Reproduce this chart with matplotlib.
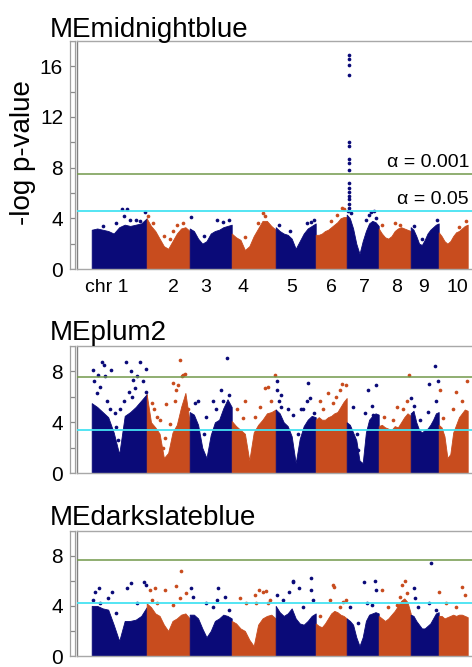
import numpy as np
import matplotlib.pyplot as plt

plt.rcParams['font.family'] = ['Liberation Sans', 'DejaVu Sans']

# chromosome lengths (plot units) and where chr 1 starts
chr_len = [55, 43, 42, 44, 40, 31, 32, 32, 28, 29]
chr_first = 14.7
chr_tick_pos = [29.5, 96, 129, 166, 215, 254, 287, 320, 346, 380]
chr_tick_lab = ['chr 1', '2', '3', '4', '5', '6', '7', '8', '9', '10']

navy = '#0a0a78'
rust = '#c84c1e'
green = '#72994a'
cyan = '#45e3f2'

# ---- MEmidnightblue ----
p1_env = [
    [3.1, 3.2, 3.1, 3.0, 2.8, 3.3, 3.5, 3.4, 3.5, 3.6, 4.0],
    [4.0, 3.4, 3.0, 2.4, 1.8, 1.6, 2.2, 2.8, 3.2, 3.3, 3.0],
    [3.2, 3.0, 2.4, 2.0, 2.2, 2.8, 3.0, 3.1, 3.3, 3.4, 3.5],
    [2.8, 2.5, 2.3, 1.5, 1.8, 2.6, 3.2, 3.8, 3.8, 3.4, 3.1],
    [3.3, 3.0, 2.8, 2.7, 2.4, 1.6, 2.2, 2.8, 3.2, 3.4, 3.6],
    [2.7, 2.7, 2.8, 3.0, 3.1, 3.3, 3.5, 3.7, 4.0, 4.1, 4.1],
    [4.3, 4.0, 3.2, 2.0, 1.2, 2.2, 3.0, 3.6, 3.8, 3.7, 3.4],
    [3.2, 2.8, 2.5, 2.4, 2.6, 3.0, 3.2, 3.3, 3.2, 3.1, 3.0],
    [3.3, 3.1, 2.6, 2.0, 1.9, 2.3, 2.8, 3.1, 3.3, 3.5, 3.6],
    [2.9, 2.6, 2.2, 2.0, 2.2, 2.6, 2.9, 3.0, 3.2, 3.4, 3.5],
]
p1_pts = [
    [(0.55, 4.7), (0.64, 4.7), (0.97, 4.5), (0.8, 3.9), (0.2, 3.4), (0.45, 3.6), (0.58, 4.2), (0.7, 3.9), (0.88, 3.8)],
    [(0.03, 4.2), (0.15, 3.6), (0.4, 2.6), (0.55, 2.4), (0.7, 3.5), (0.85, 3.6), (0.6, 3.0)],
    [(0.04, 4.1), (0.65, 3.9), (0.93, 3.9), (0.8, 3.7), (0.35, 2.6)],
    [(0.72, 4.4), (0.75, 4.2), (0.3, 2.5), (0.6, 3.6)],
    [(0.08, 3.5), (0.35, 3.0), (0.78, 3.6), (0.95, 3.9), (0.88, 3.7)],
    [(0.85, 4.8), (0.9, 4.7), (0.7, 4.3), (0.5, 3.8)],
    [(0.08, 16.9), (0.08, 16.6), (0.08, 16.1), (0.08, 15.3), (0.08, 10.0), (0.08, 9.7),
     (0.08, 8.7), (0.08, 8.4), (0.08, 7.8), (0.08, 6.8), (0.08, 6.4), (0.08, 6.1),
     (0.08, 5.8), (0.08, 5.5), (0.08, 5.1), (0.08, 4.8),
     (0.7, 4.3), (0.75, 4.5), (0.85, 4.6), (0.9, 4.0), (0.6, 3.9), (0.05, 4.6), (0.12, 4.4)],
    [(0.5, 3.6), (0.65, 3.5), (0.1, 3.5)],
    [(0.1, 3.4), (0.95, 3.9), (0.4, 2.4)],
    [(0.93, 3.8), (0.7, 3.3)],
]

# ---- MEplum2 ----
p2_env = [
    [5.5, 5.2, 4.8, 4.4, 3.2, 1.5, 4.5, 4.8, 5.2, 5.7, 6.2],
    [6.2, 4.0, 3.6, 3.1, 1.2, 1.6, 3.2, 3.8, 5.2, 6.3, 4.0],
    [4.8, 4.6, 3.8, 2.0, 1.2, 3.0, 4.0, 4.2, 5.1, 5.8, 5.2],
    [4.1, 3.7, 3.4, 3.1, 1.0, 3.2, 3.8, 4.2, 4.7, 4.8, 5.0],
    [5.0, 4.7, 4.0, 3.7, 2.9, 0.8, 2.7, 3.7, 4.2, 4.5, 4.4],
    [4.2, 4.4, 4.2, 4.2, 4.4, 4.5, 4.7, 4.8, 5.2, 5.6, 5.9],
    [4.0, 3.8, 3.2, 2.6, 1.0, 0.8, 3.2, 4.2, 4.5, 4.7, 4.6],
    [3.7, 3.8, 3.6, 3.5, 3.4, 3.7, 3.6, 4.0, 4.4, 4.7, 4.5],
    [4.7, 4.9, 4.0, 3.4, 3.2, 3.4, 3.5, 3.8, 4.2, 4.7, 4.8],
    [3.8, 3.6, 2.9, 1.2, 1.5, 3.2, 3.8, 4.4, 4.7, 5.0, 4.9],
]
p2_pts = [
    [(0.03, 8.1), (0.19, 8.7), (0.23, 8.5), (0.12, 7.7), (0.24, 7.6), (0.35, 8.1), (0.62, 8.7),
     (0.71, 8.0), (0.88, 8.7), (0.98, 8.2), (0.83, 7.6), (0.75, 7.3), (0.04, 7.2), (0.15, 6.8),
     (0.09, 6.3), (0.27, 5.7), (0.33, 5.0), (0.42, 4.7), (0.52, 5.0), (0.59, 5.7), (0.67, 6.4),
     (0.73, 6.0), (0.79, 6.7), (0.93, 7.2), (0.98, 6.4), (0.45, 3.6), (0.47, 2.6)],
    [(0.77, 8.9), (0.85, 7.7), (0.88, 7.8), (0.81, 7.6), (0.62, 7.1), (0.46, 5.4), (0.12, 5.5),
     (0.23, 4.4), (0.17, 5.0), (0.38, 2.0), (0.42, 2.8), (0.54, 3.9), (0.65, 5.7), (0.69, 6.5),
     (0.73, 6.9), (0.96, 5.0), (0.31, 4.2)],
    [(0.88, 9.0), (0.2, 5.7), (0.12, 5.5), (0.55, 5.7), (0.75, 6.5), (0.94, 6.1), (0.8, 5.7),
     (0.33, 3.1), (0.63, 5.0), (0.39, 4.4)],
    [(0.98, 7.7), (0.75, 6.7), (0.83, 6.8), (0.3, 5.7), (0.52, 4.4), (0.64, 5.2), (0.9, 5.7),
     (0.26, 4.3), (0.11, 5.0)],
    [(0.04, 7.2), (0.02, 6.5), (0.12, 6.1), (0.08, 5.7), (0.14, 5.2), (0.31, 5.0), (0.43, 4.6),
     (0.64, 5.0), (0.68, 5.0), (0.81, 7.1), (0.85, 5.9), (0.77, 5.7), (0.95, 4.7), (0.56, 3.1)],
    [(0.13, 5.7), (0.4, 6.3), (0.57, 5.5), (0.78, 6.5), (0.84, 7.0), (0.98, 6.9), (0.67, 6.0),
     (0.24, 5.0)],
    [(0.19, 5.2), (0.66, 6.5), (0.92, 6.9), (0.78, 5.3), (0.83, 4.6), (0.57, 4.7), (0.31, 3.1),
     (0.36, 1.8)],
    [(0.96, 7.7), (0.88, 5.7), (0.56, 5.2), (0.15, 4.4), (0.77, 5.0), (0.46, 4.2)],
    [(0.85, 8.4), (0.97, 7.2), (0.65, 7.0), (0.02, 5.9), (0.12, 5.3), (0.62, 4.8), (0.91, 5.7),
     (0.33, 4.2)],
    [(0.96, 7.2), (0.61, 6.4), (0.79, 5.7), (0.06, 6.5), (0.14, 4.3), (0.49, 5.0)],
]

# ---- MEdarkslateblue ----
p3_env = [
    [4.0, 4.0, 3.8, 3.7, 2.5, 1.2, 2.8, 2.8, 2.9, 3.2, 3.9],
    [4.2, 3.9, 3.4, 3.2, 2.5, 2.0, 2.8, 3.0, 3.3, 3.4, 3.0],
    [3.3, 3.3, 3.0, 2.2, 1.5, 2.0, 2.8, 3.0, 3.3, 3.2, 3.0],
    [2.8, 2.6, 2.2, 2.0, 1.3, 0.8, 2.5, 3.0, 3.2, 3.3, 3.0],
    [4.0, 3.5, 3.2, 3.4, 3.8, 3.0, 2.6, 2.5, 2.8, 3.2, 3.4],
    [2.6, 2.4, 2.3, 2.6, 3.0, 3.4, 3.6, 3.5, 3.3, 3.2, 3.0],
    [3.0, 2.8, 2.5, 1.5, 0.8, 1.5, 2.8, 3.3, 3.4, 3.5, 3.4],
    [3.2, 3.0, 2.8, 3.0, 3.3, 3.6, 4.0, 4.4, 4.6, 4.3, 3.4],
    [3.3, 3.2, 2.8, 2.5, 2.2, 2.2, 2.4, 2.6, 3.0, 3.4, 3.5],
    [3.2, 3.2, 3.0, 3.1, 3.2, 3.3, 3.2, 3.3, 3.3, 3.2, 3.1],
]
p3_pts = [
    [(0.06, 5.1), (0.14, 5.4), (0.3, 4.6), (0.36, 5.1), (0.65, 5.4), (0.72, 5.8), (0.82, 4.2),
     (0.95, 5.9), (0.98, 5.7), (0.15, 4.2), (0.03, 4.5), (0.45, 3.4)],
    [(0.08, 5.3), (0.19, 5.4), (0.42, 5.3), (0.68, 5.6), (0.79, 6.8), (0.77, 4.6), (0.6, 4.1),
     (0.12, 4.5), (0.92, 5.0), (0.23, 4.2)],
    [(0.04, 5.4), (0.08, 4.7), (0.67, 5.4), (0.65, 4.5), (0.85, 4.7), (0.39, 4.2), (0.55, 3.9),
     (0.94, 3.7)],
    [(0.18, 4.6), (0.33, 4.2), (0.52, 4.9), (0.63, 5.3), (0.71, 5.1), (0.79, 5.2), (0.86, 4.5),
     (0.56, 4.2), (0.82, 4.2)],
    [(0.04, 4.9), (0.43, 5.9), (0.42, 6.0), (0.33, 5.1), (0.58, 5.4), (0.89, 6.2), (0.87, 5.3),
     (0.93, 4.5), (0.18, 4.5), (0.68, 3.9)],
    [(0.57, 5.7), (0.59, 5.5), (0.89, 4.3), (0.98, 4.5), (0.46, 4.5), (0.13, 3.2), (0.78, 3.9)],
    [(0.54, 5.9), (0.89, 6.0), (0.92, 5.3), (0.63, 4.2), (0.78, 4.1), (0.1, 3.9), (0.36, 2.6)],
    [(0.82, 6.0), (0.72, 5.7), (0.88, 5.0), (0.67, 4.7), (0.09, 5.3), (0.56, 4.1), (0.3, 3.9)],
    [(0.73, 7.4), (0.12, 5.4), (0.15, 4.6), (0.67, 4.2), (0.91, 3.7), (0.27, 3.9)],
    [(0.01, 5.1), (0.82, 5.5), (0.91, 4.9), (0.26, 4.2), (0.61, 3.9)],
]

titles = ['MEmidnightblue', 'MEplum2', 'MEdarkslateblue']
y_max = [18, 10, 10]
y_major = [[0, 4, 8, 12, 16], [0, 4, 8], [0, 4, 8]]
thr_001 = [7.5, 7.55, 7.7]
thr_05 = [4.6, 3.42, 4.26]
envs = [p1_env, p2_env, p3_env]
pts = [p1_pts, p2_pts, p3_pts]

W, H = 472, 667
fig = plt.figure(figsize=(W / 100, H / 100), dpi=100)


def box(l, t, r, b):
    return [l / W, 1 - b / H, (r - l) / W, (b - t) / H]


# panel top / bottom in pixels
rows = [(41, 269), (345.7, 473.3), (530.7, 656)]
chr_start = chr_first + np.concatenate([[0], np.cumsum(chr_len)[:-1]])

for k in range(3):
    top, bot = rows[k]
    ax = fig.add_axes(box(77, top, 477, bot))
    ax.set_xlim(0, 400)
    ax.set_ylim(0, y_max[k])

    for i in range(10):
        col = navy if i % 2 == 0 else rust
        env = envs[k][i]
        xs = chr_start[i] + np.linspace(0, 1, len(env)) * chr_len[i]
        ax.fill_between(xs, 0, env, color=col, lw=0.6, edgecolor=col, zorder=2)
        fr = np.array([p[0] for p in pts[k][i]])
        vv = [p[1] for p in pts[k][i]]
        ax.scatter(chr_start[i] + fr * chr_len[i], vv, s=7, color=col, lw=0, zorder=3)

    ax.axhline(thr_001[k], color=green, lw=1.1, zorder=4)
    ax.axhline(thr_05[k], color=cyan, lw=1.3, zorder=4)

    for s in ax.spines.values():
        s.set_color('#a8a8a8')
        s.set_linewidth(1.0)
    ax.spines['left'].set_color('#808080')
    ax.set_yticks([])
    if k == 0:
        ax.set_xticks(chr_tick_pos)
        ax.set_xticklabels(chr_tick_lab, fontsize=14)
        ax.tick_params(axis='x', length=0, pad=7)
        ax.annotate('α = 0.001', xy=(392, thr_001[k]), xytext=(0, 5), textcoords='offset points',
                    ha='right', va='baseline', fontsize=14)
        ax.annotate('α = 0.05', xy=(392, thr_05[k]), xytext=(0, 5), textcoords='offset points',
                    ha='right', va='baseline', fontsize=14)
    else:
        ax.set_xticks([])

    # ruler-style y axis to the left of the box
    st = fig.add_axes(box(70, top, 75, bot))
    st.set_xlim(0, 1)
    st.set_ylim(0, y_max[k])
    st.hlines(np.arange(0, y_max[k] + 1, 2), 0, 1, color='#8a8a8a', lw=0.9)
    st.set_xticks([])
    st.set_yticks(y_major[k])
    st.set_yticklabels([str(v) for v in y_major[k]], fontsize=15)
    st.tick_params(axis='y', length=0, pad=5)
    for s in st.spines.values():
        s.set_color('#a0a0a0')
        s.set_linewidth(0.9)

    fig.text(50 / W, 1 - [37, 340, 525][k] / H, titles[k], fontsize=20,
             ha='left', va='baseline')

fig.text(23 / W, 1 - 153 / H, '-log p-value', fontsize=20, rotation=90,
         ha='center', va='center')

fig.savefig('out.png', dpi=100)
